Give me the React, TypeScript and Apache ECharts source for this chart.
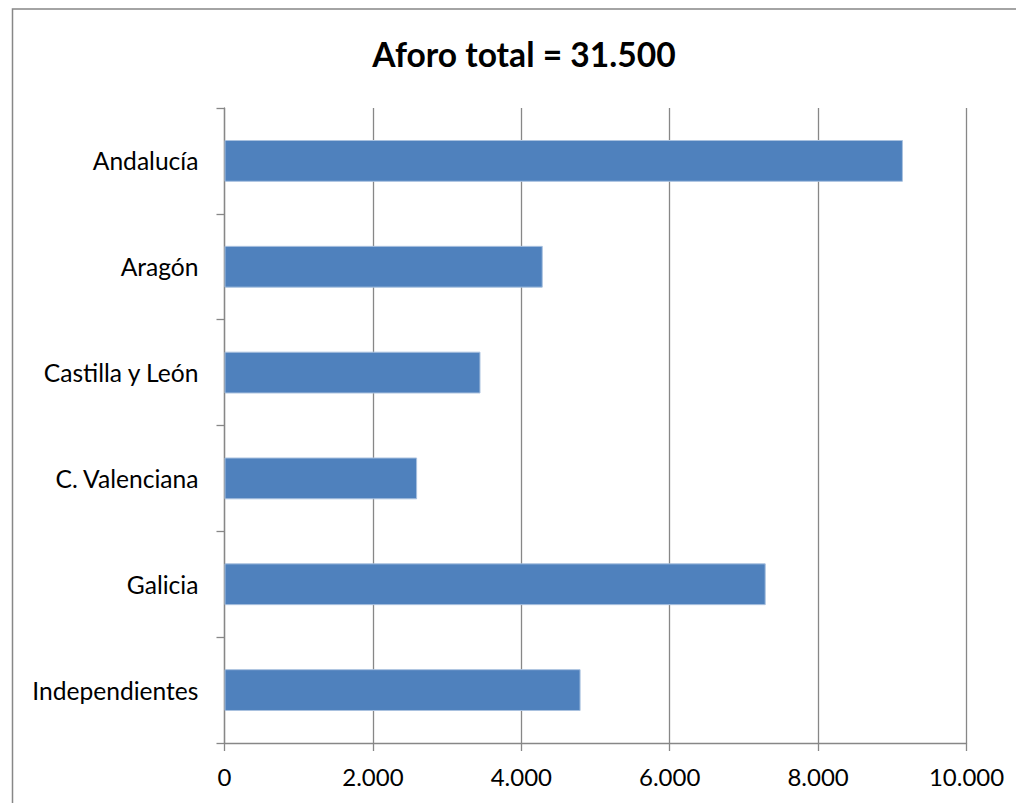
import React, { useEffect, useRef } from "react";
import * as echarts from "echarts";

const categories = ["Andalucía", "Aragón", "Castilla y León", "C. Valenciana", "Galicia", "Independientes"];
const values = [9143, 4289, 3450, 2596, 7294, 4799];
const titleText = "Aforo total = 31.500";
const xMin = 0;
const xMax = 10000;
const xInterval = 2000;

const fmt = (v: number) => String(v).replace(/\B(?=(\d{3})+(?!\d))/g, ".");

export default function App() {
  const ref = useRef<HTMLDivElement>(null);
  useEffect(() => {
    if (!ref.current) return;
    const chart = echarts.init(ref.current, undefined, { renderer: "svg" });
    const gray = "#878787";
    chart.setOption({
      animation: false,
      backgroundColor: "#ffffff",
      title: {
        text: titleText,
        left: 519,
        textAlign: "center",
        top: 32,
        textStyle: { fontFamily: "Lato", fontWeight: "bold", fontSize: 33.6, color: "#000" },
      },
      graphic: [
        {
          type: "rect",
          shape: { x: 12.5, y: 9, width: 1200, height: 1000 },
          style: { fill: "none", stroke: gray, lineWidth: 1.5 },
          silent: true,
        },
      ],
      grid: { left: 224.5, top: 108, width: 742, height: 635 },
      xAxis: {
        type: "value",
        min: xMin,
        max: xMax,
        interval: xInterval,
        axisLine: { show: true, lineStyle: { color: gray, width: 1.3 } },
        axisTick: { show: true, length: 8, lineStyle: { color: gray, width: 1.3 } },
        splitLine: { show: true, lineStyle: { color: gray, width: 1.3 } },
        axisLabel: {
          formatter: (v: number) => fmt(v),
          fontFamily: "Lato",
          fontSize: 24,
          color: "#000",
          margin: 21,
        },
      },
      yAxis: {
        type: "category",
        data: categories,
        inverse: true,
        axisLine: { show: true, lineStyle: { color: gray, width: 1.3 } },
        axisTick: { show: true, length: 8, inside: false, lineStyle: { color: gray, width: 1.3 } },
        axisLabel: { fontFamily: "Lato", fontSize: 24.6, color: "#000", margin: 26 },
        splitLine: { show: false },
      },
      series: [
        {
          type: "bar",
          data: values,
          barWidth: "39.5%",
          itemStyle: { color: "#4F81BD", borderColor: "#A9C1DF", borderWidth: 1 },
        },
      ],
    });
    return () => chart.dispose();
  }, []);
  return <div ref={ref} style={{ position: "fixed", left: 0, top: 0, width: 1016, height: 803 }} />;
}
